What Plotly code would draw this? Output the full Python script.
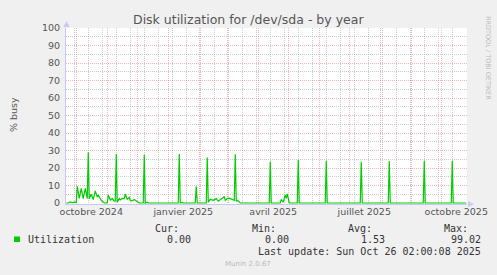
import plotly.graph_objects as go

W, H = 497, 275

# ---- data ----
dates = [
    "2024-09-21", "2024-09-23", "2024-09-25", "2024-09-27", "2024-09-29", "2024-10-01",
    "2024-10-02", "2024-10-04", "2024-10-06", "2024-10-08", "2024-10-10", "2024-10-12",
    "2024-10-13", "2024-10-14", "2024-10-16", "2024-10-18", "2024-10-20", "2024-10-22",
    "2024-10-23", "2024-10-26", "2024-10-29", "2024-11-01", "2024-11-02", "2024-11-04",
    "2024-11-06", "2024-11-08", "2024-11-09", "2024-11-10", "2024-11-11", "2024-11-13",
    "2024-11-14", "2024-11-16", "2024-11-18", "2024-11-19", "2024-11-21", "2024-11-23",
    "2024-11-24", "2024-11-26", "2024-11-28", "2024-11-30", "2024-12-03",
    "2024-12-07", "2024-12-08", "2024-12-09", "2024-12-11", "2024-12-12",
    "2025-01-11", "2025-01-12", "2025-01-13", "2025-01-15", "2025-01-16",
    "2025-01-28", "2025-01-29", "2025-01-30",
    "2025-02-08", "2025-02-09", "2025-02-10", "2025-02-12", "2025-02-15", "2025-02-18",
    "2025-02-20", "2025-02-23", "2025-02-26", "2025-02-27", "2025-03-01", "2025-03-03",
    "2025-03-06", "2025-03-08", "2025-03-09", "2025-03-10", "2025-03-11", "2025-03-14",
    "2025-04-12", "2025-04-13", "2025-04-14",
    "2025-04-23", "2025-04-24", "2025-04-26", "2025-04-28", "2025-04-29", "2025-04-30",
    "2025-05-02",
    "2025-05-10", "2025-05-11", "2025-05-12",
    "2025-06-07", "2025-06-08", "2025-06-09",
    "2025-07-12", "2025-07-13", "2025-07-14",
    "2025-08-09", "2025-08-10", "2025-08-11",
    "2025-09-13", "2025-09-14", "2025-09-15",
    "2025-10-11", "2025-10-12", "2025-10-13",
    "2025-10-26",
]
util = [
    0, 0, 0.6, 0.2, 0.5, 0.3,
    9.5, 2.7, 8.4, 2.5, 8.4, 2.5,
    29, 2.5, 5, 2, 6.9, 3.4,
    4.6, 1.5, 0, 0, 4.6, 1.7,
    2.6, 1, 1, 28, 0.5, 2.5,
    1.8, 2.6, 2.5, 5, 2.2, 3.2,
    1.5, 1.2, 2, 1.2, 0,
    0, 27.5, 0, 0.5, 0,
    0, 28, 0, 0.3, 0,
    0, 9.5, 0,
    0, 26, 0.5, 2.1, 1.5, 2.5,
    1, 2.3, 3.6, 1.5, 2.6, 2.8,
    2, 1.5, 27.8, 1, 1.5, 0,
    0, 23.6, 0,
    0, 2, 0.5, 4.6, 2.6, 5.2,
    0,
    0, 24.5, 0,
    0, 24, 0,
    0, 23.6, 0,
    0, 24, 0,
    0, 24, 0,
    0, 24, 0,
    0,
]

label_dates = ["2024-10-16", "2025-01-16", "2025-04-16", "2025-07-16", "2025-10-16"]
label_text = ["octobre 2024", "janvier 2025", "avril 2025", "juillet 2025", "octobre 2025"]

stat_names = ["Cur:", "Min:", "Avg:", "Max:"]
stat_values = ["0.00", "0.00", "1.53", "99.02"]

x_range = ["2024-09-20 18:00", "2025-10-26 18:00"]

# ---- layout helpers ----
def px(x):
    return x / W

def py(y):
    return 1 - y / H

TXT = "#555555"
MAJ = "rgba(230,110,110,0.5)"
MIN = "rgba(180,180,180,0.7)"
AXIS = "#c8c8f8"
FONT = "DejaVu Sans"
MONO = "DejaVu Sans Mono"

fig = go.Figure()
fig.add_trace(go.Scatter(
    x=dates, y=util, mode="lines",
    line=dict(color="#00cc00", width=1.2),
    hoverinfo="skip", showlegend=False,
))
fig.add_trace(go.Scatter(x=[], y=[], xaxis="x2", yaxis="y", showlegend=False))

x_dom = [px(66), px(467)]
y_dom = [py(204), py(28)]

fig.update_layout(
    width=W, height=H, autosize=False,
    margin=dict(l=0, r=0, t=0, b=0, pad=0, autoexpand=False),
    paper_bgcolor="#f0f0f0",
    plot_bgcolor="#ffffff",
    font=dict(family=FONT, size=9.5, color=TXT),
    xaxis=dict(
        domain=x_dom, range=x_range, type="date",
        tickmode="linear", tick0="2024-10-01", dtick="M1",
        showticklabels=False, ticks="",
        showgrid=True, gridcolor=MAJ, griddash="1px,1px", gridwidth=1,
        minor=dict(tickmode="linear", tick0="2024-10-13", dtick=14 * 86400000,
                   showgrid=True, gridcolor=MIN, griddash="1px,1px", gridwidth=1),
        showline=True, linecolor=AXIS, linewidth=1, layer="below traces",
        zeroline=False, fixedrange=True, automargin=False,
    ),
    xaxis2=dict(
        domain=x_dom, range=x_range, type="date", overlaying="x", anchor="y",
        side="bottom", tickmode="array", tickvals=label_dates, ticktext=label_text,
        showgrid=False, ticks="", showline=False, zeroline=False, automargin=False,
        tickfont=dict(family=FONT, size=9.5, color=TXT),
    ),
    yaxis=dict(
        domain=y_dom, range=[-0.5714, 100],
        tickmode="linear", tick0=0, dtick=10,
        ticks="", ticklabelstandoff=3,
        showgrid=True, gridcolor=MAJ, griddash="1px,1px", gridwidth=1,
        minor=dict(tickmode="linear", tick0=0, dtick=5, showgrid=True,
                   gridcolor=MIN, griddash="1px,1px", gridwidth=1),
        showline=True, linecolor=AXIS, linewidth=1, layer="below traces",
        zeroline=False, fixedrange=True, automargin=False,
        tickfont=dict(family=FONT, size=9.5, color=TXT),
    ),
)

ann = []
ann.append(dict(text="Disk utilization for /dev/sda - by year", x=px(248), y=py(19),
                xref="paper", yref="paper", showarrow=False, xanchor="center", yanchor="middle",
                font=dict(family=FONT, size=12.5, color=TXT)))
ann.append(dict(text="% busy", x=px(13), y=py(115), xref="paper", yref="paper",
                showarrow=False, textangle=-90, xanchor="center", yanchor="middle",
                font=dict(family=FONT, size=9.5, color=TXT)))
ann.append(dict(text="RRDTOOL / TOBI OETIKER", x=px(488), y=py(58), xref="paper", yref="paper",
                showarrow=False, textangle=90, xanchor="center", yanchor="middle",
                font=dict(family=FONT, size=6.5, color="#bbbbbb")))
ann.append(dict(text="Utilization", x=px(26), y=py(239.5), xref="paper", yref="paper",
                showarrow=False, xanchor="left", yanchor="middle",
                font=dict(family=MONO, size=10, color="#333333")))
name_right = [181, 278, 374, 470]
val_right = [193, 291, 387, 483]
for n, v, nr, vr in zip(stat_names, stat_values, name_right, val_right):
    ann.append(dict(text=n, x=px(nr), y=py(228), xref="paper", yref="paper",
                    showarrow=False, xanchor="right", yanchor="middle",
                    font=dict(family=MONO, size=10, color="#333333")))
    ann.append(dict(text=v, x=px(vr), y=py(239.5), xref="paper", yref="paper",
                    showarrow=False, xanchor="right", yanchor="middle",
                    font=dict(family=MONO, size=10, color="#333333")))
ann.append(dict(text="Last update: Sun Oct 26 02:00:08 2025", x=px(483), y=py(251),
                xref="paper", yref="paper", showarrow=False, xanchor="right", yanchor="middle",
                font=dict(family=MONO, size=10, color="#333333")))
ann.append(dict(text="Munin 2.0.67", x=px(248), y=py(264), xref="paper", yref="paper",
                showarrow=False, xanchor="center", yanchor="middle",
                font=dict(family=FONT, size=7, color="#bbbbbb")))
fig.update_layout(annotations=ann)

shapes = []
shapes.append(dict(type="rect", xref="paper", yref="paper",
                   x0=px(14), x1=px(20), y0=py(242), y1=py(236.5),
                   fillcolor="#00cc00", line=dict(width=0)))
shapes.append(dict(type="path", xref="paper", yref="paper",
                   path=f"M {px(63.5)} {py(27)} L {px(69.5)} {py(27)} L {px(66.5)} {py(21)} Z",
                   fillcolor=AXIS, line=dict(width=0)))
shapes.append(dict(type="path", xref="paper", yref="paper",
                   path=f"M {px(468)} {py(201)} L {px(468)} {py(207)} L {px(474)} {py(204)} Z",
                   fillcolor=AXIS, line=dict(width=0)))
fig.update_layout(shapes=shapes)

fig.write_html(
    "out.html",
    config={"responsive": False, "displayModeBar": False},
    post_script="document.body.style.margin='0';document.body.style.padding='0';"
                "document.body.style.overflow='hidden';",
)
